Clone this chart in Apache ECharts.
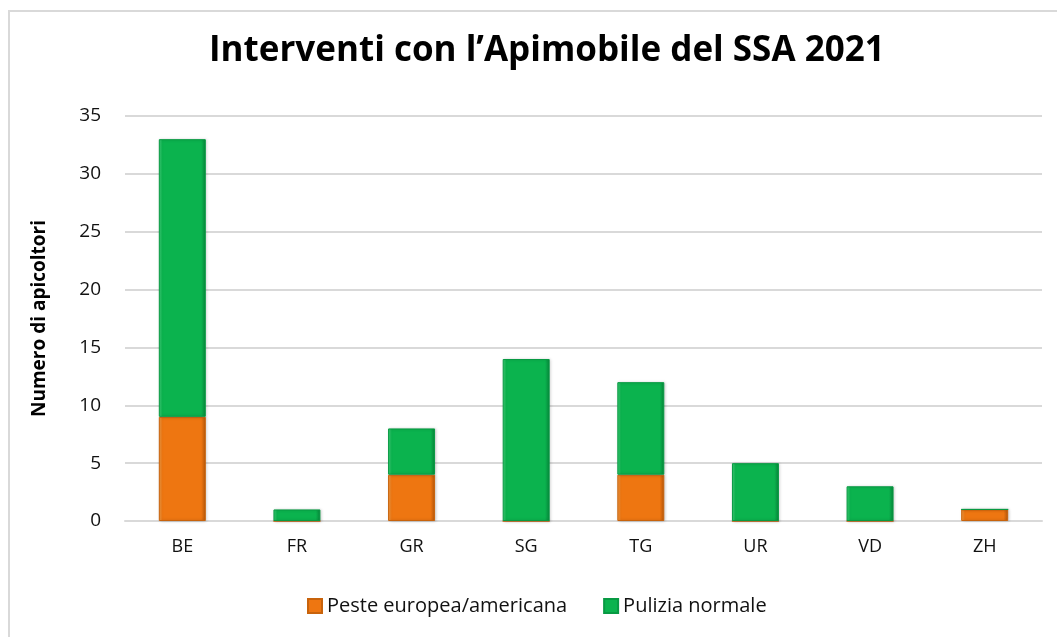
<!DOCTYPE html>
<html>
<head>
<meta charset="utf-8">
<script src="https://cdn.jsdelivr.net/npm/echarts@6/dist/echarts.min.js"></script>
<style>
  html, body { margin: 0; padding: 0; background: #fff; }
  #frame { position: absolute; left: 8px; top: 10px; width: 1200px; height: 800px; border: 2px solid #d9d9d9; box-sizing: border-box; }
  #chart { position: absolute; left: 0; top: 0; width: 1057px; height: 637px; }
</style>
</head>
<body>
<div id="frame"></div>
<div id="chart"></div>
<script>
const cantoni = ['BE', 'FR', 'GR', 'SG', 'TG', 'UR', 'VD', 'ZH']
const peste = [9, 0, 4, 0, 4, 0, 0, 1]
const pulizia = [24, 1, 4, 14, 8, 5, 3, 0]

const font = '"Open Sans", "Noto Sans", sans-serif'

// finto effetto "smusso" alla Excel
const bevel = (dark, mid, light) => ({
  type: 'linear', x: 0, y: 0, x2: 1, y2: 0,
  colorStops: [
    { offset: 0, color: light },
    { offset: 0.08, color: mid },
    { offset: 0.9, color: mid },
    { offset: 1, color: dark }
  ]
})

const chart = echarts.init(document.getElementById('chart'))
chart.setOption({
  animation: false,
  textStyle: { fontFamily: font },
  title: {
    text: 'Interventi con l\u2019Apimobile del SSA 2021',
    left: 204,
    top: 29,
    textStyle: { fontSize: 35, fontWeight: 'bold', color: '#000', fontFamily: font }
  },
  legend: {
    bottom: 16,
    left: 302,
    itemWidth: 14,
    itemHeight: 14,
    itemGap: 36,
    icon: 'rect',
    textStyle: { fontSize: 20, color: '#111', fontFamily: font }
  },
  grid: { left: 125, right: 15, top: 116, bottom: 116 },
  xAxis: {
    type: 'category',
    data: cantoni,
    axisTick: { show: false },
    axisLine: { lineStyle: { color: '#d9d9d9', width: 2 } },
    axisLabel: { fontSize: 18, color: '#111', margin: 17 }
  },
  yAxis: {
    type: 'value',
    min: 0,
    max: 35,
    interval: 5,
    name: 'Numero di apicoltori',
    nameLocation: 'middle',
    nameGap: 76,
    nameTextStyle: { fontSize: 19, fontWeight: 'bold', color: '#000' },
    axisLabel: { fontSize: 19, color: '#111', margin: 24 },
    splitLine: { lineStyle: { color: '#d9d9d9', width: 2 } }
  },
  series: [
    {
      name: 'Peste europea/americana',
      type: 'bar',
      stack: 'tot',
      barWidth: '41%',
      data: peste,
      itemStyle: {
        color: bevel('#b5560a', '#ee7611', '#f8a047'),
        borderColor: '#c8630c',
        borderWidth: 1,
        shadowBlur: 3,
        shadowOffsetX: 1,
        shadowColor: 'rgba(0,0,0,0.2)'
      }
    },
    {
      name: 'Pulizia normale',
      type: 'bar',
      stack: 'tot',
      data: pulizia,
      itemStyle: {
        color: bevel('#07853a', '#0bb34e', '#3fd57a'),
        borderColor: '#089a43',
        borderWidth: 1,
        shadowBlur: 3,
        shadowOffsetX: 1,
        shadowColor: 'rgba(0,0,0,0.2)'
      }
    }
  ]
})
</script>
</body>
</html>
